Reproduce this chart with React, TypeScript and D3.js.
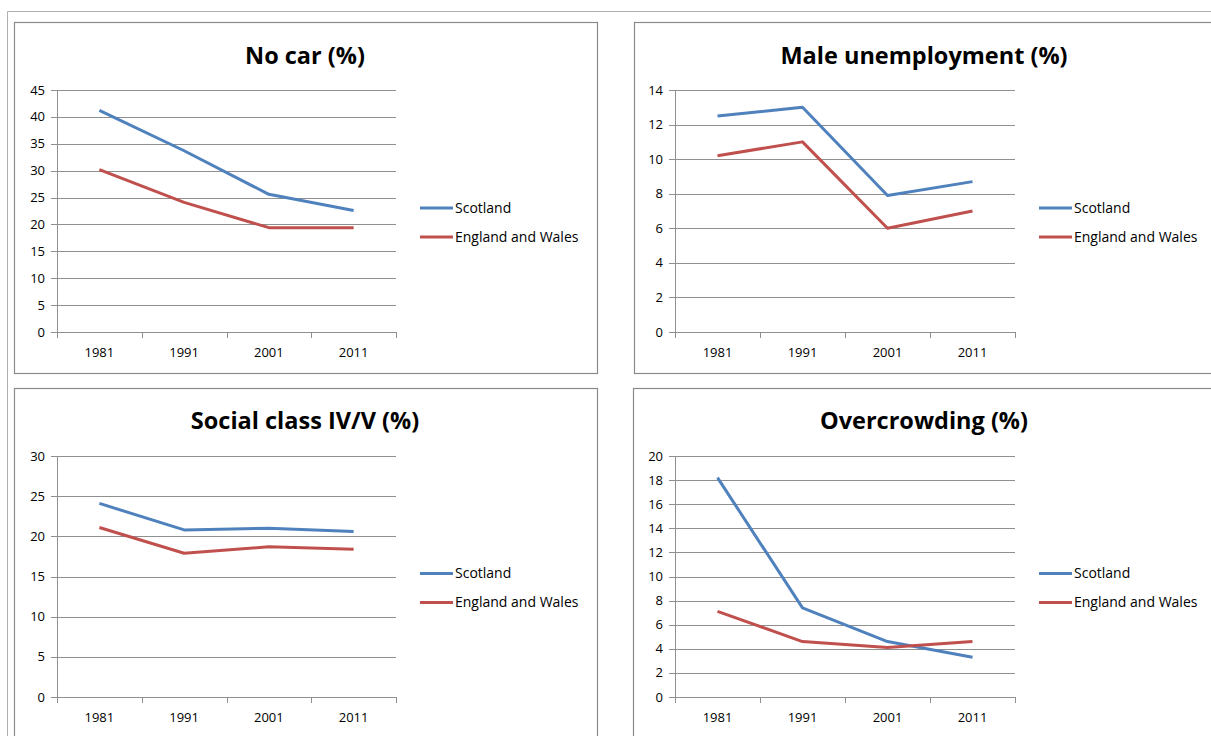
import * as d3 from "d3";

// census indicators, Scotland vs England and Wales
const years = ["1981", "1991", "2001", "2011"];
const seriesNames = ["Scotland", "England and Wales"];
const seriesColors = ["#4F81BD", "#C0504D"];

const noCarScotland = [41.2, 33.7, 25.6, 22.6];
const noCarEngland = [30.2, 24.1, 19.4, 19.4];
const unempScotland = [12.5, 13.0, 7.9, 8.7];
const unempEngland = [10.2, 11.0, 6.0, 7.0];
const classScotland = [24.1, 20.8, 21.0, 20.6];
const classEngland = [21.1, 17.9, 18.7, 18.4];
const crowdScotland = [18.2, 7.4, 4.6, 3.3];
const crowdEngland = [7.1, 4.6, 4.1, 4.6];

const titles = ["No car (%)", "Male unemployment (%)", "Social class IV/V (%)", "Overcrowding (%)"];
const yMaxes = [45, 14, 30, 20];
const ySteps = [5, 2, 5, 2];

// layout of each chart box (frame + plot area)
const panels = [
  { fx: 14, fy: 22, px0: 57, px1: 396, py0: 90, py1: 332, tx: 305, ty: 64, data: [noCarScotland, noCarEngland] },
  { fx: 634, fy: 22, px0: 675, px1: 1015, py0: 90, py1: 332, tx: 924, ty: 64, data: [unempScotland, unempEngland] },
  { fx: 14, fy: 388, px0: 57, px1: 396, py0: 456, py1: 697, tx: 305, ty: 429, data: [classScotland, classEngland] },
  { fx: 633, fy: 388, px0: 675, px1: 1015, py0: 456, py1: 697, tx: 924, ty: 429, data: [crowdScotland, crowdEngland] },
];

const font = "'Open Sans', Lato, sans-serif";
const gridColor = "#8f8f8f";

function Panel(props: { p: (typeof panels)[number]; i: number }) {
  const { p, i } = props;
  const x = d3.scaleBand().domain(years).range([p.px0, p.px1]).paddingInner(0).paddingOuter(0);
  const y = d3.scaleLinear().domain([0, yMaxes[i]]).range([p.py1, p.py0]);
  const ticks = d3.range(0, yMaxes[i] + ySteps[i] / 2, ySteps[i]);
  const line = d3
    .line<number>()
    .x((d, j) => (x(years[j]) as number) + x.bandwidth() / 2)
    .y((d) => y(d));
  const bounds = years.map((yr) => x(yr) as number).concat([p.px1]);
  const legendX = p.px1 + 24;
  const legendY = (p.py0 + p.py1) / 2 - 3;

  return (
    <g>
      <rect x={p.fx + 0.5} y={p.fy + 0.5} width={583} height={351} fill="#fff" stroke="#8a8a8a" strokeWidth={1.2} />
      <text x={p.tx} y={p.ty} textAnchor="middle" fontFamily={font} fontWeight="bold" fontSize={23.5} fill="#000">
        {titles[i]}
      </text>
      {/* gridlines + y ticks */}
      {ticks.map((t) => (
        <g key={t}>
          <line x1={p.px0 - 6} x2={p.px1} y1={Math.round(y(t)) + 0.5} y2={Math.round(y(t)) + 0.5} stroke={gridColor} strokeWidth={1} />
          <text x={p.px0 - 12} y={y(t)} dy="0.35em" textAnchor="end" fontFamily={font} fontSize={13} fill="#000">
            {t}
          </text>
        </g>
      ))}
      <line x1={p.px0 + 0.5} x2={p.px0 + 0.5} y1={p.py0} y2={p.py1 + 5} stroke={gridColor} />
      {bounds.map((b, j) => (
        <line key={j} x1={Math.round(b) + 0.5} x2={Math.round(b) + 0.5} y1={p.py1} y2={p.py1 + 6} stroke={gridColor} />
      ))}
      {years.map((yr) => (
        <text key={yr} x={(x(yr) as number) + x.bandwidth() / 2} y={p.py1 + 25} textAnchor="middle" fontFamily={font} fontSize={13} fill="#000">
          {yr}
        </text>
      ))}
      {p.data.map((s, k) => (
        <path key={k} d={line(s) || ""} fill="none" stroke={seriesColors[k]} strokeWidth={3} strokeLinejoin="round" />
      ))}
      {seriesNames.map((n, k) => (
        <g key={n}>
          <line x1={legendX} x2={legendX + 33} y1={legendY + k * 29} y2={legendY + k * 29} stroke={seriesColors[k]} strokeWidth={3} />
          <text x={legendX + 35} y={legendY + k * 29} dy="0.35em" fontFamily={font} fontSize={14} fill="#000">
            {n}
          </text>
        </g>
      ))}
    </g>
  );
}

export default function App() {
  return (
    <svg width={1211} height={736} style={{ position: "absolute", left: 0, top: 0, background: "#fff" }}>
      <rect width={1211} height={736} fill="#fff" />
      <line x1={7.5} x2={1211} y1={11.5} y2={11.5} stroke="#b0b0b0" />
      <line x1={7.5} x2={7.5} y1={11.5} y2={736} stroke="#b0b0b0" />
      {panels.map((p, i) => (
        <Panel key={i} p={p} i={i} />
      ))}
    </svg>
  );
}
